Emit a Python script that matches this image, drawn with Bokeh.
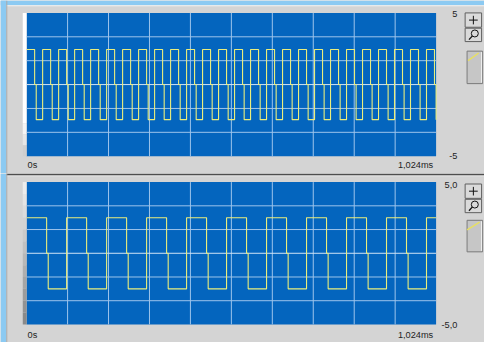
from bokeh.plotting import figure
from bokeh.layouts import column
from bokeh.models import Range1d
from bokeh.core.properties import value
from bokeh.embed import file_html
from bokeh.resources import INLINE

# ---------------- data ----------------
duration_ms = 1.024
y_limits_v = [-5.0, 5.0]

# upper graph: fast square wave (edges in ms)
top_fall_ms = [0.02, 0.06, 0.10, 0.14, 0.18, 0.22, 0.26, 0.30, 0.34, 0.38, 0.42, 0.46, 0.50,
               0.54, 0.58, 0.62, 0.66, 0.70, 0.74, 0.78, 0.82, 0.86, 0.90, 0.94, 0.98, 1.02]
top_rise_ms = [0.04, 0.08, 0.12, 0.16, 0.20, 0.24, 0.28, 0.32, 0.36, 0.40, 0.44, 0.48,
               0.52, 0.56, 0.60, 0.64, 0.68, 0.72, 0.76, 0.80, 0.84, 0.88, 0.92, 0.96, 1.00]
top_high_v = 2.45
top_low_v = -2.45

# lower graph: slow square wave (edges in ms)
bottom_fall_ms = [0.05, 0.15, 0.25, 0.35, 0.45, 0.55, 0.65, 0.75, 0.85, 0.95]
bottom_rise_ms = [0.10, 0.20, 0.30, 0.40, 0.50, 0.60, 0.70, 0.80, 0.90, 1.00]
bottom_high_v = 2.5
bottom_low_v = -2.5

# short dwell at 0 V seen on every falling edge
fall_dwell_ms = 0.004
zero_v = 0.0

# grid divisions
x_grid_ms = [0.1024, 0.2048, 0.3072, 0.4096, 0.5120, 0.6144, 0.7168, 0.8192, 0.9216]
y_grid_v = [-3.333, -1.667, 0.0, 1.667, 3.333]

# tick labels
x_tick_labels = ["0s", "1,024ms"]
top_y_tick_labels = ["5", "-5"]
bottom_y_tick_labels = ["5,0", "-5,0"]

# ---------------- styles / layout ----------------
PANEL = "#D4D4D4"
SKY = "#8CCAF2"
BLUE = "#0465BE"
GRID = "#9DC4EC"
MID = "#D0E4F6"
TRACE = "#EAEE7C"
TEXT = "#1E1E1E"
FONT = "Liberation Sans"
FSIZE = "9.2px"
W, H = 484, 342
SX, SY = W / 500.0, H / 358.0   # reference pixels -> canvas pixels


def square_path(fall, rise, hi, lo):
    edges = sorted([(t, "f") for t in fall] + [(t, "r") for t in rise])
    xs, ys = [0.0], [hi]
    for t, kind in edges:
        if kind == "r":
            xs += [t, t]
            ys += [lo, hi]
        else:
            xs += [t, t, t + fall_dwell_ms, t + fall_dwell_ms]
            ys += [hi, zero_v, zero_v, lo]
    xs.append(duration_ms)
    ys.append(ys[-1])
    return xs, ys


def make_panel(ref_top, ref_bot, ref_plot, ylabels, fall, rise, hi, lo, ctrl, strip_cols,
               label_ry, ylab_ry, first):
    off = ref_top * SY
    height = int(round(ref_bot * SY - off))

    def cx(rx):
        return rx * SX

    def cy(ry):
        return ry * SY - off

    left_px, right_px = cx(27), cx(450)
    ptop, pbot = cy(ref_plot[0]), cy(ref_plot[1])
    ppx = (right_px - left_px) / duration_ms
    x0 = -left_px / ppx
    x1 = (W - left_px) / ppx
    ppy = (pbot - ptop) / (y_limits_v[1] - y_limits_v[0])
    y1 = y_limits_v[1] + ptop / ppy
    y0 = y1 - height / ppy

    def X(rx):
        return x0 + cx(rx) / ppx

    def Y(ry):
        return y1 - cy(ry) / ppy

    p = figure(width=W, height=height, x_range=Range1d(x0, x1), y_range=Range1d(y0, y1),
               toolbar_location=None, output_backend="svg", min_border=0,
               x_axis_location=None, y_axis_location=None, outline_line_color=None,
               background_fill_color=PANEL, border_fill_color=PANEL)
    p.xgrid.visible = False
    p.ygrid.visible = False

    # window frame: light blue edge, dark separator
    if first:
        p.quad(left=[X(0)], right=[X(500)], top=[Y(ref_top)], bottom=[Y(5)],
               fill_color=SKY, line_color=None)
        p.quad(left=[X(6)], right=[X(500)], top=[Y(5)], bottom=[Y(6)],
               fill_color="#F2F2F2", line_color=None)
    else:
        p.quad(left=[X(6)], right=[X(500)], top=[Y(ref_top)], bottom=[Y(ref_top + 2)],
               fill_color="#4E4E4E", line_color=None)
        p.quad(left=[X(6)], right=[X(500)], top=[Y(ref_top + 2)], bottom=[Y(ref_top + 3)],
               fill_color="#F0F0F0", line_color=None)
    p.quad(left=[X(0)], right=[X(6)], top=[Y(ref_top)], bottom=[Y(ref_bot)],
           fill_color=SKY, line_color=None)
    p.quad(left=[X(6)], right=[X(7)], top=[Y(ref_top)], bottom=[Y(ref_bot)],
           fill_color="#A9A9A9", line_color=None)

    # plot area
    p.quad(left=[0], right=[duration_ms], bottom=[y_limits_v[0]], top=[y_limits_v[1]],
           fill_color=BLUE, line_color=None)

    # bevel strip at the left of the plot area
    n = len(strip_cols)
    rs = ref_plot[1] - ref_plot[0]
    for i, c in enumerate(strip_cols):
        p.quad(left=[X(23)], right=[X(27)],
               top=[Y(ref_plot[0] + rs * i / n)], bottom=[Y(ref_plot[0] + rs * (i + 1) / n)],
               fill_color=c, line_color=None)

    # grid
    p.segment(x0=x_grid_ms, y0=[y_limits_v[0]] * len(x_grid_ms),
              x1=x_grid_ms, y1=[y_limits_v[1]] * len(x_grid_ms),
              line_color=GRID, line_width=1)
    p.segment(x0=[0] * len(y_grid_v), y0=y_grid_v,
              x1=[duration_ms] * len(y_grid_v), y1=y_grid_v,
              line_color=[MID if v == 0 else GRID for v in y_grid_v], line_width=1)

    # trace
    xs, ys = square_path(fall, rise, hi, lo)
    p.line(xs, ys, line_color=TRACE, line_width=1.1)

    # x tick labels
    p.text(x=[X(28)], y=[Y(label_ry)], text=[x_tick_labels[0]],
           text_font=value(FONT), text_font_size=value(FSIZE), text_color=TEXT,
           text_align="left", text_baseline="middle")
    p.text(x=[X(447)], y=[Y(label_ry)], text=[x_tick_labels[1]],
           text_font=value(FONT), text_font_size=value(FSIZE), text_color=TEXT,
           text_align="right", text_baseline="middle")
    # y tick labels (right side)
    p.text(x=[X(472), X(472)], y=[Y(ylab_ry[0]), Y(ylab_ry[1])], text=ylabels,
           text_font=value(FONT), text_font_size=value(FSIZE), text_color=TEXT,
           text_align="right", text_baseline="middle")

    # controls: "+" button, zoom button, legend slider
    bx0, bx1 = 480, 497
    b1t, b1b, b2t, b2b, st, sb, yl = ctrl
    for t, b in [(b1t, b1b), (b2t, b2b)]:
        p.quad(left=[X(bx0)], right=[X(bx1)], top=[Y(t)], bottom=[Y(b)],
               fill_color="#DADADA", line_color="#5F5F5F", line_width=1)
    mx = (bx0 + bx1) / 2
    my = (b1t + b1b) / 2
    p.segment(x0=[X(mx - 4.5), X(mx)], y0=[Y(my), Y(my - 4.5)],
              x1=[X(mx + 4.5), X(mx)], y1=[Y(my), Y(my + 4.5)],
              line_color="#111111", line_width=1)
    zy = (b2t + b2b) / 2
    p.scatter(x=[X(mx + 1.5)], y=[Y(zy - 1.5)], marker="circle", size=7,
              fill_color="#DADADA", line_color="#111111", line_width=1)
    p.segment(x0=[X(mx - 1)], y0=[Y(zy + 1)], x1=[X(mx - 4.5)], y1=[Y(zy + 5)],
              line_color="#111111", line_width=1.3)
    p.quad(left=[X(bx0 + 2)], right=[X(bx1 + 1)], top=[Y(st)], bottom=[Y(sb)],
           fill_color="#C6C6C6", line_color="#7A7A7A", line_width=1)
    p.segment(x0=[X(bx1)], y0=[Y(st + 1)], x1=[X(bx1)], y1=[Y(sb - 1)],
              line_color="#F2F2F2", line_width=1)
    p.segment(x0=[X(yl[0])], y0=[Y(yl[1])], x1=[X(yl[2])], y1=[Y(yl[3])],
              line_color="#E8E060", line_width=1.4)
    return p


top_strip = ["#FFFFFF"] * 10 + ["#F4F4F4", "#E6E6E6", "#CFCFCF"]
bottom_strip = ["#ECECEC", "#E4E4E4", "#DCDCDC", "#D3D3D3", "#CACACA", "#C1C1C1",
                "#B8B8B8", "#AFAFAF", "#A6A6A6", "#9C9C9C", "#939393", "#8A8A8A"]

top = make_panel(0, 181, (13, 163), top_y_tick_labels, top_fall_ms, top_rise_ms,
                 top_high_v, top_low_v,
                 (13, 28, 29, 43, 53, 87, (483, 63, 494, 55)), top_strip,
                 172, (14.5, 163), True)
bottom = make_panel(181, 358, (190, 339), bottom_y_tick_labels, bottom_fall_ms,
                    bottom_rise_ms, bottom_high_v, bottom_low_v,
                    (192, 207, 208, 222, 230, 263, (482, 240, 495, 232)), bottom_strip,
                    350, (193.5, 340), False)

layout = column(top, bottom, spacing=0)
open("out.html", "w").write(file_html(layout, INLINE))
